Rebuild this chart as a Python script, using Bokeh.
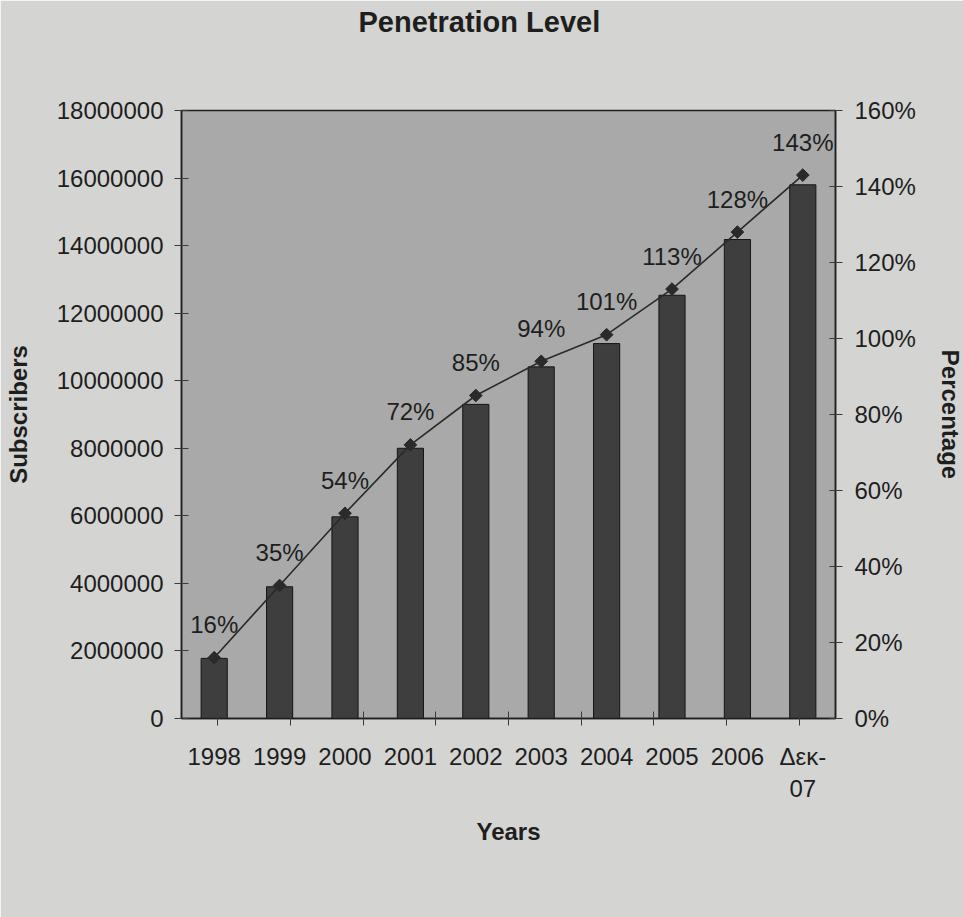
from bokeh.plotting import figure
from bokeh.models import (FactorRange, Range1d, LinearAxis, CategoricalAxis,
                          FixedTicker, ColumnDataSource, Legend, LegendItem,
                          PrintfTickFormatter, Title)
from bokeh.core.properties import value
from bokeh.embed import file_html
from bokeh.resources import INLINE

# Mobile market penetration: subscribers per year and penetration percentage
years = ["1998", "1999", "2000", "2001", "2002", "2003", "2004", "2005", "2006", "Δεκ-\n07"]
subscribers = [1780000, 3900000, 5970000, 8000000, 9300000,
               10410000, 11100000, 12530000, 14180000, 15800000]
percentage = [16, 35, 54, 72, 85, 94, 101, 113, 128, 143]
subscriber_ticks = list(range(0, 18_000_001, 2_000_000))
percentage_ticks = list(range(0, 161, 20))

FONT = "Liberation Sans"
PAGE = "#d4d4d2"
PANEL = "#a9a9a9"
BAR = "#3e3e3e"
INK = "#1e1e1e"

src = ColumnDataSource(dict(
    year=years,
    subs=subscribers,
    pct=percentage,
    pct_label=[f"{v}%" for v in percentage],
))

p = figure(width=963, height=917, frame_width=654, frame_height=608,
           x_range=FactorRange(factors=years), y_range=Range1d(0, 18_000_000),
           x_axis_location=None, y_axis_location=None,
           output_backend="svg", toolbar_location=None,
           min_border_left=181, min_border_right=128,
           min_border_top=110, min_border_bottom=199,
           background_fill_color=PANEL, border_fill_color=PAGE,
           outline_line_color=INK, outline_line_width=1.5)
p.grid.grid_line_color = None

p.extra_y_ranges = {"pct": Range1d(0, 160)}
# one factor per category boundary; the negative padding centres them on the edges
edge_factors = [f"e{i}" for i in range(len(years) + 1)]
p.extra_x_ranges = {"edges": FactorRange(factors=edge_factors,
                                         range_padding=-1, range_padding_units="absolute")}


def spacer_axis(height):
    """An invisible axis that only reserves `height` pixels in a side panel."""
    return CategoricalAxis(axis_line_color=None, major_tick_line_color=None,
                           major_tick_in=0, major_tick_out=height,
                           major_label_text_color=None, major_label_standoff=0,
                           minor_tick_line_color=None)


axis_style = dict(
    axis_line_color=INK, axis_line_width=1.5,
    major_tick_line_color="#3a3a3a", major_tick_line_width=1,
    minor_tick_line_color=None,
    major_label_text_font=FONT, major_label_text_font_size="24px",
    major_label_text_color=INK,
    axis_label_text_font=FONT, axis_label_text_font_size="24px",
    axis_label_text_font_style="bold", axis_label_text_color=INK,
)

# title sits at the top of the page, above a blank band
p.add_layout(spacer_axis(73), "above")
title = Title(text="Penetration Level", align="left", offset=177, standoff=0,
              text_font=FONT, text_font_size="29px", text_font_style="bold",
              text_color=INK)
p.add_layout(title, "above")

left = LinearAxis(ticker=FixedTicker(ticks=subscriber_ticks),
                  formatter=PrintfTickFormatter(format="%d"),
                  axis_label="Subscribers", major_tick_in=7, major_tick_out=7,
                  major_label_standoff=11, axis_label_standoff=22, **axis_style)
p.add_layout(left, "left")

right = LinearAxis(y_range_name="pct", ticker=FixedTicker(ticks=percentage_ticks),
                   formatter=PrintfTickFormatter(format="%d%%"),
                   axis_label="Percentage", axis_label_orientation="vertical",
                   major_tick_in=6, major_tick_out=7,
                   major_label_standoff=12, axis_label_standoff=18, **axis_style)
p.add_layout(right, "right")

# tick marks between categories, on the bottom axis line
edge_axis = CategoricalAxis(x_range_name="edges", major_tick_in=7, major_tick_out=7,
                            major_label_standoff=0, **axis_style)
edge_axis.major_label_text_color = None
p.add_layout(edge_axis, "below")

year_axis = CategoricalAxis(axis_label="Years", major_label_standoff=17,
                            axis_label_standoff=13, **axis_style)
year_axis.axis_line_color = None
year_axis.major_tick_line_color = None
year_axis.major_tick_in = 0
year_axis.major_tick_out = 0
p.add_layout(year_axis, "below")

bars = p.vbar(x="year", top="subs", width=0.4, source=src,
              fill_color=BAR, line_color="#151515", line_width=1)

line_r = p.line(x="year", y="pct", y_range_name="pct", source=src,
                line_color="#2a2a2a", line_width=1.6)
mark_r = p.scatter(x="year", y="pct", y_range_name="pct", source=src,
                   marker="square", angle=0.785398, size=9,
                   fill_color="#2a2a2a", line_color="#2a2a2a")

p.text(x="year", y="pct", text="pct_label", y_range_name="pct", source=src,
       text_align="center", text_baseline="middle", y_offset=-33,
       text_font=value(FONT), text_font_size="24px", text_color=INK)

legend = Legend(items=[LegendItem(label="Total Subscribers", renderers=[bars]),
                       LegendItem(label="Percentage", renderers=[line_r, mark_r])],
                orientation="horizontal", location="center",
                label_text_font=FONT, label_text_font_size="24px", label_text_color=INK,
                glyph_width=54, glyph_height=16, label_standoff=3, spacing=15,
                padding=4, margin=0,
                border_line_color="#777777", border_line_width=1.2,
                background_fill_color=PAGE, background_fill_alpha=1)
p.add_layout(legend, "below")

open("out.html", "w").write(file_html(p, INLINE))
